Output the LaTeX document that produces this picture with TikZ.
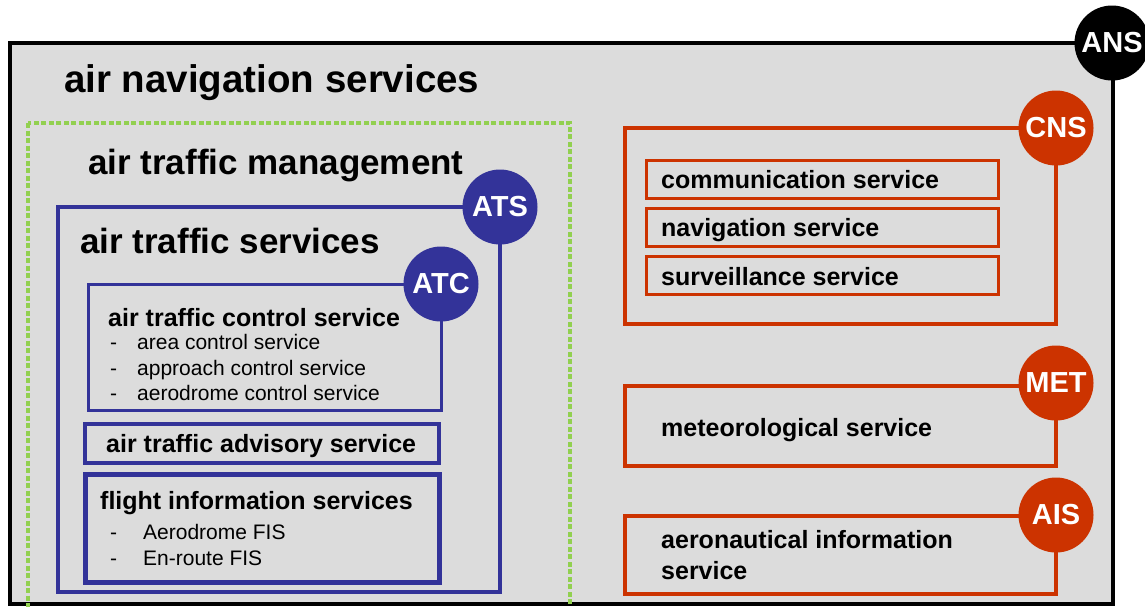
\documentclass[tikz,border=0pt]{standalone}
\usepackage{fontspec}
\setmainfont{Liberation Sans}
\usepackage{tikz}
\usetikzlibrary{positioning}
\definecolor{ansgray}{RGB}{220,220,220}
\definecolor{atsblue}{RGB}{51,51,153}
\definecolor{cnsred}{RGB}{204,51,0}
\definecolor{atmgreen}{RGB}{146,208,80}

\tikzset{
	badge/.style={circle, minimum size=75pt, inner sep=0pt, text=white, font=\fontsize{29}{30}\selectfont\bfseries},
	bigtitle/.style={anchor=base west, inner sep=0pt, font=\fontsize{38.5}{40}\selectfont\bfseries},
	head/.style={anchor=base west, inner sep=0pt, font=\fontsize{25}{28}\selectfont\bfseries},
	item/.style={anchor=base west, inner sep=0pt, font=\fontsize{21}{25}\selectfont},
	bluebox/.style={draw=atsblue, line width=4pt},
	redbox/.style={draw=cnsred, line width=4pt},
}

\begin{document}
\begin{tikzpicture}[x=1pt, y=-1pt]
		\useasboundingbox (0,0) rectangle (1145,606);
		\clip (0,0) rectangle (1145,606);
		\fill[white] (0,0) rectangle (1145,606);
		\draw[fill=ansgray, line width=4pt] (10,43) rectangle (1113,604);
		\node[bigtitle] (ansname) at (64,92) {air navigation services};

		\draw[atmgreen, line width=4pt, dash pattern=on 5pt off 2.5pt] (28,123) rectangle (570,640);
		\node[bigtitle, font=\fontsize{35}{38}\selectfont\bfseries] (atmname) at (88,174) {air traffic management};

		\draw[bluebox] (58,207) rectangle (500,592);
		\node[bigtitle, font=\fontsize{35}{38}\selectfont\bfseries] (atsname) at (80,253) {air traffic services};

		\draw[bluebox, line width=3pt] (88,284) rectangle (441,410);
		\node[head] (atcname) at (108,326) {air traffic control service};
		\node[item] (atc1) at (110,349) {\makebox[27pt][l]{-}area control service};
		\node[item] (atc2) at (110,375) {\makebox[27pt][l]{-}approach control service};
		\node[item] (atc3) at (110,400) {\makebox[27pt][l]{-}aerodrome control service};

		\draw[bluebox, line width=3.5pt] (85,424) rectangle (439,463);
		\node[head] (advname) at (106,452) {air traffic advisory service};

		\draw[bluebox, line width=5pt] (85,474) rectangle (439,582);
		\node[head] (fisname) at (100,509) {flight information services};
		\node[item] (fis1) at (110,539) {\makebox[33pt][l]{-}Aerodrome FIS};
		\node[item] (fis2) at (110,565) {\makebox[33pt][l]{-}En-route FIS};

		\draw[redbox] (625,128) rectangle (1056,324);
		\draw[redbox, line width=3pt] (646,160) rectangle (998,198);
		\draw[redbox, line width=3pt] (646,208) rectangle (998,246);
		\draw[redbox, line width=3pt] (646,256) rectangle (998,294);
		\node[head] (comname) at (661,188) {communication service};
		\node[head] (navname) at (661,236) {navigation service};
		\node[head] (surname) at (661,285) {surveillance service};

		\draw[redbox] (625,386) rectangle (1056,466);
		\node[head] (metname) at (661,436) {meteorological service};

		\draw[redbox] (625,516) rectangle (1056,594);
		\node[head] (aisname1) at (661,548) {aeronautical information};
		\node[head] (aisname2) at (661,579) {service};

		\node[badge, fill=black] (ans) at (1112,43) {ANS};
		\node[badge, fill=atsblue] (ats) at (500,207) {ATS};
		\node[badge, fill=atsblue] (atc) at (441,284) {ATC};
		\node[badge, fill=cnsred] (cns) at (1056,128) {CNS};
		\node[badge, fill=cnsred] (met) at (1056,383) {MET};
		\node[badge, fill=cnsred] (ais) at (1056,515) {AIS};
	\end{tikzpicture}
\end{document}
